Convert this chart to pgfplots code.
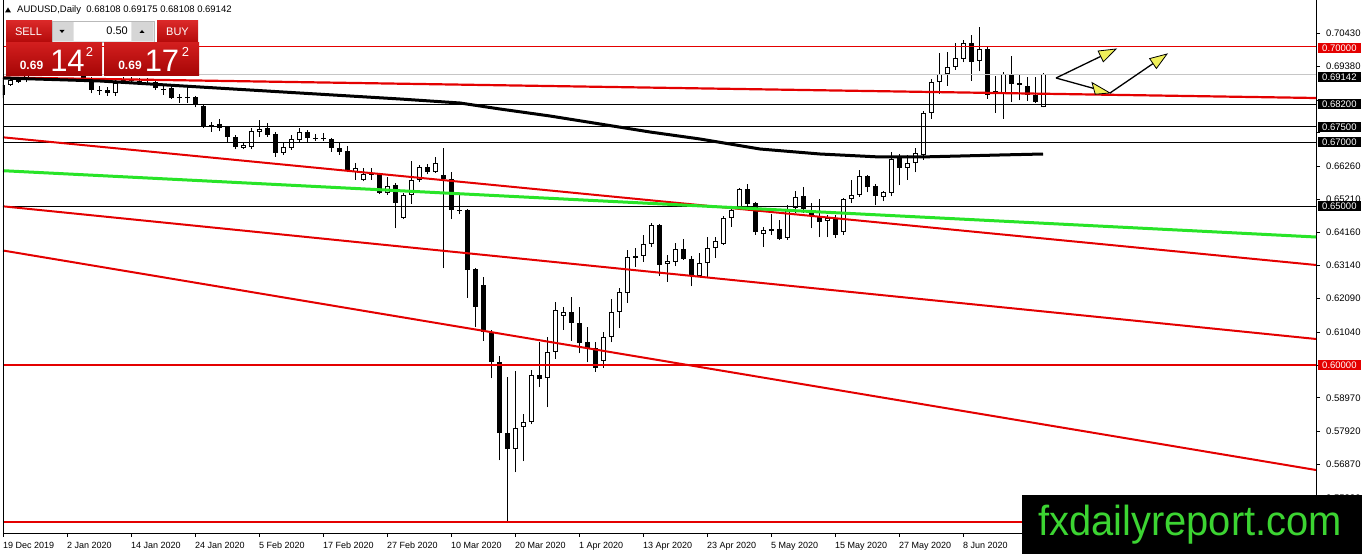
\documentclass[border=0pt]{standalone}
\usepackage{fontspec}
\setmainfont{Liberation Sans}
\usepackage{pgfplots}
\usepackage{pgfplotstable}
\pgfplotsset{compat=1.18}
\definecolor{mtred}{RGB}{228,0,0}
\definecolor{mtgreen}{RGB}{40,228,40}
\definecolor{btnT}{RGB}{218,40,40}
\definecolor{btnB}{RGB}{180,10,10}
\definecolor{bigT}{RGB}{210,30,30}
\definecolor{bigB}{RGB}{165,5,5}
\definecolor{logogreen}{RGB}{60,212,50}
\definecolor{arrowyellow}{RGB}{240,240,90}

\pgfplotstableread{
k o h l c
0 0.68491 0.68962 0.68396 0.68805
1 0.68805 0.68994 0.68774 0.68962
2 0.68962 0.68994 0.68868 0.68899
3 0.68962 0.69277 0.68899 0.69214
4 0.69214 0.69434 0.69151 0.69340
5 0.69340 0.69654 0.69277 0.69591
6 0.69591 0.69843 0.69497 0.69748
7 0.69748 0.70220 0.69654 0.70063
8 0.70063 0.70283 0.69591 0.69748
9 0.69748 0.69843 0.69182 0.69277
10 0.69277 0.69403 0.68962 0.69025
11 0.69025 0.69057 0.68553 0.68648
12 0.68648 0.68774 0.68491 0.68616
13 0.68648 0.68742 0.68459 0.68553
14 0.68553 0.68994 0.68459 0.68868
15 0.68931 0.69057 0.68836 0.68962
16 0.68962 0.69057 0.68836 0.68931
17 0.68931 0.69025 0.68805 0.68899
18 0.68931 0.69025 0.68805 0.68962
19 0.68899 0.68962 0.68648 0.68711
20 0.68679 0.68805 0.68491 0.68648
21 0.68711 0.68774 0.68365 0.68396
22 0.68396 0.68522 0.68239 0.68428
23 0.68428 0.68742 0.68239 0.68396
24 0.68428 0.68459 0.68113 0.68208
25 0.68145 0.68176 0.67453 0.67516
26 0.67547 0.67641 0.67327 0.67516
27 0.67579 0.67736 0.67358 0.67453
28 0.67484 0.67516 0.67013 0.67170
29 0.67170 0.67233 0.66792 0.66855
30 0.66824 0.67013 0.66792 0.66918
31 0.66855 0.67453 0.66792 0.67358
32 0.67327 0.67704 0.67170 0.67421
33 0.67453 0.67610 0.67170 0.67233
34 0.67264 0.67327 0.66541 0.66667
35 0.66667 0.67013 0.66604 0.66855
36 0.66824 0.67233 0.66761 0.67107
37 0.67075 0.67453 0.67013 0.67327
38 0.67327 0.67390 0.67013 0.67138
39 0.67138 0.67264 0.67044 0.67107
40 0.67138 0.67296 0.67044 0.67107
41 0.67107 0.67138 0.66698 0.66824
42 0.66824 0.67013 0.66604 0.66698
43 0.66730 0.66887 0.66069 0.66132
44 0.66069 0.66352 0.65818 0.66195
45 0.65818 0.66195 0.65786 0.66006
46 0.66006 0.66195 0.65818 0.65975
47 0.66006 0.66038 0.65377 0.65409
48 0.65409 0.65912 0.65346 0.65629
49 0.65660 0.65723 0.64308 0.65094
50 0.64623 0.65409 0.64591 0.65346
51 0.65346 0.66415 0.65063 0.65818
52 0.65818 0.66289 0.65755 0.66226
53 0.66226 0.66321 0.66006 0.66069
54 0.66069 0.66541 0.66038 0.66352
55 0.65975 0.66824 0.63050 0.65849
56 0.65849 0.66069 0.64591 0.64874
57 0.64874 0.65346 0.64748 0.64843
58 0.64874 0.64906 0.62107 0.62987
59 0.63019 0.63050 0.61195 0.61824
60 0.62516 0.62767 0.60755 0.61038
61 0.61006 0.61101 0.59591 0.60094
62 0.60094 0.60283 0.57012 0.57861
63 0.57861 0.59623 0.55063 0.57358
64 0.57358 0.59811 0.56635 0.58019
65 0.58050 0.58459 0.56981 0.58207
66 0.58207 0.59843 0.58144 0.59685
67 0.59685 0.60723 0.59308 0.59560
68 0.59591 0.60880 0.58679 0.60409
69 0.60409 0.61981 0.60189 0.61729
70 0.61541 0.61824 0.61101 0.61667
71 0.61667 0.62138 0.60755 0.61321
72 0.61321 0.61824 0.60377 0.60692
73 0.60723 0.61195 0.60094 0.60534
74 0.60534 0.60723 0.59780 0.59906
75 0.60126 0.61038 0.59906 0.60880
76 0.60880 0.62075 0.60723 0.61667
77 0.61667 0.62421 0.61163 0.62296
78 0.62264 0.63616 0.61950 0.63396
79 0.63365 0.63679 0.63082 0.63428
80 0.63428 0.64088 0.63239 0.63805
81 0.63805 0.64465 0.63711 0.64402
82 0.64402 0.64434 0.62799 0.63145
83 0.63176 0.63459 0.62610 0.63270
84 0.63239 0.63836 0.63113 0.63648
85 0.63648 0.63962 0.63302 0.63333
86 0.63333 0.63428 0.62484 0.62830
87 0.62799 0.63522 0.62767 0.63207
88 0.63207 0.64025 0.62767 0.63679
89 0.63679 0.64025 0.63365 0.63899
90 0.63805 0.64685 0.63774 0.64623
91 0.64623 0.65000 0.64340 0.64874
92 0.64969 0.65566 0.64937 0.65535
93 0.65535 0.65692 0.64969 0.65063
94 0.65094 0.65126 0.64088 0.64182
95 0.64119 0.64340 0.63711 0.64245
96 0.64277 0.64748 0.64088 0.64214
97 0.64277 0.64560 0.63931 0.63962
98 0.63994 0.65031 0.63931 0.64843
99 0.64937 0.65472 0.64780 0.65283
100 0.65314 0.65597 0.64780 0.64906
101 0.64811 0.65094 0.64308 0.64685
102 0.64654 0.65220 0.64025 0.64497
103 0.64528 0.64717 0.64025 0.64623
104 0.64591 0.64717 0.63994 0.64088
105 0.64182 0.65252 0.64088 0.65220
106 0.65220 0.65818 0.65094 0.65346
107 0.65346 0.66132 0.65283 0.65943
108 0.65943 0.65975 0.65440 0.65597
109 0.65629 0.65692 0.65031 0.65314
110 0.65283 0.65472 0.65157 0.65440
111 0.65409 0.66698 0.65314 0.66478
112 0.66541 0.66635 0.65660 0.66195
113 0.66195 0.66604 0.65818 0.66352
114 0.66352 0.66824 0.66069 0.66667
115 0.66604 0.67987 0.66447 0.67925
116 0.67925 0.68994 0.67736 0.68899
117 0.68899 0.69811 0.68522 0.69151
118 0.69151 0.69843 0.68774 0.69371
119 0.69371 0.70126 0.69277 0.69654
120 0.69623 0.70220 0.69528 0.70126
121 0.70126 0.70377 0.68931 0.69528
122 0.69560 0.70629 0.69245 0.69937
123 0.69937 0.70000 0.68365 0.68491
124 0.68616 0.69088 0.67925 0.68522
125 0.68522 0.69214 0.67736 0.69151
126 0.69151 0.69717 0.68270 0.68836
127 0.68868 0.69151 0.68333 0.68805
128 0.68774 0.69057 0.68302 0.68491
129 0.68491 0.69057 0.68239 0.68270
130 0.68108 0.69175 0.68108 0.69142
}\ohlc

\pgfplotstableread{
k p
0 0.69025
12.125 0.68931
24.625 0.68742
37.125 0.68553
49.625 0.68365
57.125 0.68239
62.125 0.68050
68.375 0.67830
74.625 0.67579
80.875 0.67327
87.125 0.67107
94.625 0.66792
102.125 0.66635
109.625 0.66541
114.625 0.66541
119.625 0.66572
124.625 0.66604
130 0.66635
}\ma

\pgfplotsset{
  candlepart/.style={only marks, mark=*, mark size=0pt,
    mark options={draw=none, fill=none}, forget plot,
    error bars/.cd, y dir=plus, y explicit, error mark=none},
}

\begin{document}
\begin{tikzpicture}
\useasboundingbox (0,0) rectangle (1362pt,554pt);
\fill[white] (0,0) rectangle (1362pt,554pt);
\begin{axis}[
  at={(3pt,21pt)}, anchor=south west,
  scale only axis, width=1313pt, height=533pt,
  xmin=0, xmax=164.125, ymin=0.54717, ymax=0.71478,
  axis x line*=bottom, axis y line*=right,
  axis line style={black, line width=0.8pt},
  tick align=outside, major tick length=4pt,
  tick style={black, line width=0.7pt},
  scaled ticks=false,
  xtick={0,8,16,24,32,40,48,56,64,72,80,88,96,104,112,120},
  xticklabels={19 Dec 2019, 2 Jan 2020, 14 Jan 2020, 24 Jan 2020, 5 Feb 2020, 17 Feb 2020, 27 Feb 2020, 10 Mar 2020, 20 Mar 2020, 1 Apr 2020, 13 Apr 2020, 23 Apr 2020, 5 May 2020, 15 May 2020, 27 May 2020, 8 Jun 2020},
  ytick={0.70430,0.69380,0.68330,0.67310,0.66260,0.65210,0.64160,0.63140,0.62090,0.61040,0.59990,0.58970,0.57920,0.56870,0.55820},
  yticklabels={0.70430,0.69380,{},{},0.66260,0.65210,0.64160,0.63140,0.62090,0.61040,{},0.58970,0.57920,0.56870,0.55820},
  xticklabel style={font=\fontsize{9}{10}\selectfont, anchor=north west, inner sep=0pt, yshift=-5pt},
  yticklabel style={font=\fontsize{9.5}{10}\selectfont, anchor=west, inner sep=0pt, xshift=6pt},
  clip=true,
]
% wicks
\addplot[candlepart, error bar style={black, line width=1pt}]
  table[x=k, y=l, y error expr=\thisrow{h}-\thisrow{l}] {\ohlc};
% bodies (outer, black)
\addplot[candlepart, error bar style={black, line width=5pt}]
  table[x=k, y expr={min(\thisrow{o},\thisrow{c})}, y error expr={max(abs(\thisrow{c}-\thisrow{o}),0.00032)}] {\ohlc};
% hollow inside of rising candles
\addplot[candlepart, error bar style={white, line width=3pt}]
  table[x=k, y expr={\thisrow{o}+0.00032}, y error expr={max(\thisrow{c}-\thisrow{o}-0.00064,0)}] {\ohlc};

% horizontal levels
\addplot[gray!45, line width=1pt] coordinates {(0,0.69142) (164.125,0.69142)};
\addplot[black, line width=0.9pt] coordinates {(0,0.68200) (164.125,0.68200)};
\addplot[black, line width=0.9pt] coordinates {(0,0.67500) (164.125,0.67500)};
\addplot[black, line width=0.9pt] coordinates {(0,0.67000) (164.125,0.67000)};
\addplot[black, line width=0.9pt] coordinates {(0,0.65000) (164.125,0.65000)};
\addplot[mtred, line width=1pt] coordinates {(0,0.70000) (164.125,0.70000)};
\addplot[mtred, line width=2pt] coordinates {(0,0.60000) (164.125,0.60000)};
\addplot[mtred, line width=2.3pt] coordinates {(0,0.55063) (164.125,0.55063)};
% trend lines
\addplot[mtred, line width=2.2pt] coordinates {(0,0.69041) (164.125,0.68396)};
\addplot[mtred, line width=2pt] coordinates {(0,0.67160) (164.125,0.63145)};
\addplot[mtred, line width=2pt] coordinates {(0,0.64990) (164.125,0.60818)};
\addplot[mtred, line width=2pt] coordinates {(0,0.63600) (164.125,0.56698)};
\addplot[mtgreen, line width=3pt] coordinates {(0,0.66110) (164.125,0.64025)};
% moving average
\addplot[black, line width=3pt] table[x=k, y=p] {\ma};
\end{axis}

\begin{scope}[x=1pt, y=-1pt, shift={(0pt,554pt)}]
% left border
\draw[black, line width=0.8pt] (3,0) -- (3,533);
% title
\fill[black] (5,12.5) -- (11,12.5) -- (8,7.5) -- cycle;
\node[anchor=west, inner sep=0pt, font=\fontsize{9.5}{10}\selectfont] at (17,10) {AUDUSD,Daily\ \ 0.68108 0.69175 0.68108 0.69142};
% trade panel
\shade[top color=btnT, bottom color=btnB] (6,21) rectangle (52,42);
\node[text=white, font=\fontsize{11}{11}\selectfont] at (28.5,31.5) {SELL};
\fill[gray!20] (52,21) rectangle (154,42);
\draw[gray!55] (52,21) rectangle (154,42);
\fill[white] (74,22) rectangle (131,41);
\fill[gray!32] (53,22) rectangle (73,41);
\fill[gray!32] (132,22) rectangle (153,41);
\fill[black] (59.5,30) -- (64.5,30) -- (62,33) -- cycle;
\fill[black] (139.5,33) -- (144.5,33) -- (142,30) -- cycle;
\node[anchor=east, inner sep=0pt, font=\fontsize{11}{11}\selectfont] at (128,31) {0.50};
\shade[top color=btnT, bottom color=btnB] (157,21) rectangle (198,42);
\node[text=white, font=\fontsize{11}{11}\selectfont] at (177.5,31.5) {BUY};
\shade[top color=bigT, bottom color=bigB] (6,43) rectangle (102,76);
\shade[top color=bigT, bottom color=bigB] (104,43) rectangle (199,76);
\node[text=white, font=\bfseries\fontsize{12}{12}\selectfont] at (31.5,65) {0.69};
\node[text=white, font=\fontsize{31}{31}\selectfont] at (67.5,61) {14};
\node[text=white, font=\fontsize{13}{13}\selectfont] at (89.5,52) {2};
\node[text=white, font=\bfseries\fontsize{12}{12}\selectfont] at (130,65) {0.69};
\node[text=white, font=\fontsize{31}{31}\selectfont] at (162,61) {17};
\node[text=white, font=\fontsize{13}{13}\selectfont] at (185.5,52) {2};
% arrows
\draw[black, line width=1.3pt] (1056,78) -- (1100.7,56.4);
\draw[black, line width=1.3pt] (1056,78) -- (1093.6,88.4);
\draw[black, line width=1.3pt] (1110,93) -- (1153,63.6);
\filldraw[fill=arrowyellow, draw=black, line width=0.8pt] (1116,49) -- (1098.1,51.0) -- (1103.3,61.8) -- cycle;
\filldraw[fill=arrowyellow, draw=black, line width=0.8pt] (1110,93) -- (1092,82.6) -- (1095.2,94.2) -- cycle;
\filldraw[fill=arrowyellow, draw=black, line width=0.8pt] (1167,54) -- (1149.6,58.6) -- (1156.4,68.5) -- cycle;
% price boxes
\fill[mtred] (1318,43) rectangle (1361,53);
\node[anchor=west, inner sep=0pt, text=white, font=\fontsize{9.5}{10}\selectfont] at (1322,48) {0.70000};
\fill[black] (1318,72) rectangle (1361,82);
\node[anchor=west, inner sep=0pt, text=white, font=\fontsize{9.5}{10}\selectfont] at (1322,77) {0.69142};
\fill[black] (1318,99) rectangle (1361,109);
\node[anchor=west, inner sep=0pt, text=white, font=\fontsize{9.5}{10}\selectfont] at (1322,104) {0.68200};
\fill[black] (1318,122.5) rectangle (1361,132.5);
\node[anchor=west, inner sep=0pt, text=white, font=\fontsize{9.5}{10}\selectfont] at (1322,127.5) {0.67500};
\fill[black] (1318,137.5) rectangle (1361,147.5);
\node[anchor=west, inner sep=0pt, text=white, font=\fontsize{9.5}{10}\selectfont] at (1322,142.5) {0.67000};
\fill[black] (1318,201.5) rectangle (1361,211.5);
\node[anchor=west, inner sep=0pt, text=white, font=\fontsize{9.5}{10}\selectfont] at (1322,206.5) {0.65000};
\fill[mtred] (1318,360) rectangle (1361,370);
\node[anchor=west, inner sep=0pt, text=white, font=\fontsize{9.5}{10}\selectfont] at (1322,365) {0.60000};
% logo
\fill[black] (1022,495) rectangle (1362,554);
\node[anchor=base west, inner sep=0pt, text=logogreen, font=\fontsize{42}{42}\selectfont] at (1038,535) {\scalebox{0.95}[1]{fxdailyreport.com}};
\end{scope}
\end{tikzpicture}
\end{document}
